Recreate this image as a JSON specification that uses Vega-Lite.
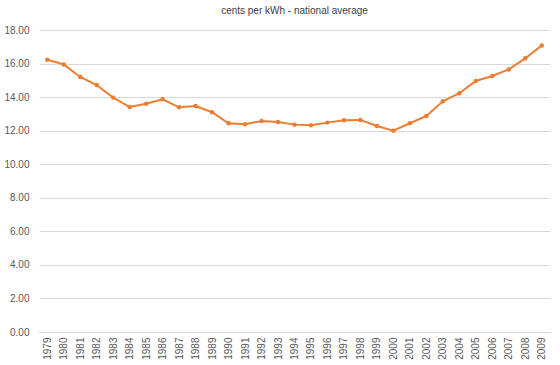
{
  "$schema": "https://vega.github.io/schema/vega-lite/v6.json",
  "autosize": "none",
  "width": 511,
  "height": 302,
  "padding": {"left": 39, "top": 30, "right": 10, "bottom": 33},
  "background": "white",
  "title": {"text": "cents per kWh - national average", "font": "Liberation Sans", "fontSize": 10, "fontWeight": "normal", "color": "#404040", "offset": 9, "anchor": "middle"},
  "config": {"view": {"stroke": null}, "axis": {"labelFont": "Liberation Sans", "labelFontSize": 10, "labelColor": "#595959"}},
  "data": {"values": [
    {"year": "1979", "cents": 16.23},
    {"year": "1980", "cents": 15.95},
    {"year": "1981", "cents": 15.20},
    {"year": "1982", "cents": 14.72},
    {"year": "1983", "cents": 13.97},
    {"year": "1984", "cents": 13.41},
    {"year": "1985", "cents": 13.61},
    {"year": "1986", "cents": 13.87},
    {"year": "1987", "cents": 13.39},
    {"year": "1988", "cents": 13.47},
    {"year": "1989", "cents": 13.10},
    {"year": "1990", "cents": 12.44},
    {"year": "1991", "cents": 12.38},
    {"year": "1992", "cents": 12.58},
    {"year": "1993", "cents": 12.52},
    {"year": "1994", "cents": 12.36},
    {"year": "1995", "cents": 12.32},
    {"year": "1996", "cents": 12.48},
    {"year": "1997", "cents": 12.62},
    {"year": "1998", "cents": 12.64},
    {"year": "1999", "cents": 12.28},
    {"year": "2000", "cents": 12.00},
    {"year": "2001", "cents": 12.44},
    {"year": "2002", "cents": 12.88},
    {"year": "2003", "cents": 13.75},
    {"year": "2004", "cents": 14.23},
    {"year": "2005", "cents": 14.96},
    {"year": "2006", "cents": 15.26},
    {"year": "2007", "cents": 15.65},
    {"year": "2008", "cents": 16.31},
    {"year": "2009", "cents": 17.08}
  ]},
  "mark": {"type": "line", "color": "#ED7D31", "strokeWidth": 2, "point": {"filled": true, "color": "#ED7D31", "size": 20}},
  "encoding": {
    "x": {"field": "year", "type": "ordinal", "scale": {"type": "point", "padding": 0.5},
      "axis": {"title": null, "labelAngle": -90, "ticks": false, "labelPadding": 5, "domainColor": "#d9d9d9", "grid": false}},
    "y": {"field": "cents", "type": "quantitative", "scale": {"domain": [0, 18], "nice": false},
      "axis": {"title": null, "values": [0, 2, 4, 6, 8, 10, 12, 14, 16, 18], "format": ".2f", "domain": false, "ticks": false, "labelPadding": 10, "gridColor": "#d9d9d9", "gridWidth": 1}}
  }
}
